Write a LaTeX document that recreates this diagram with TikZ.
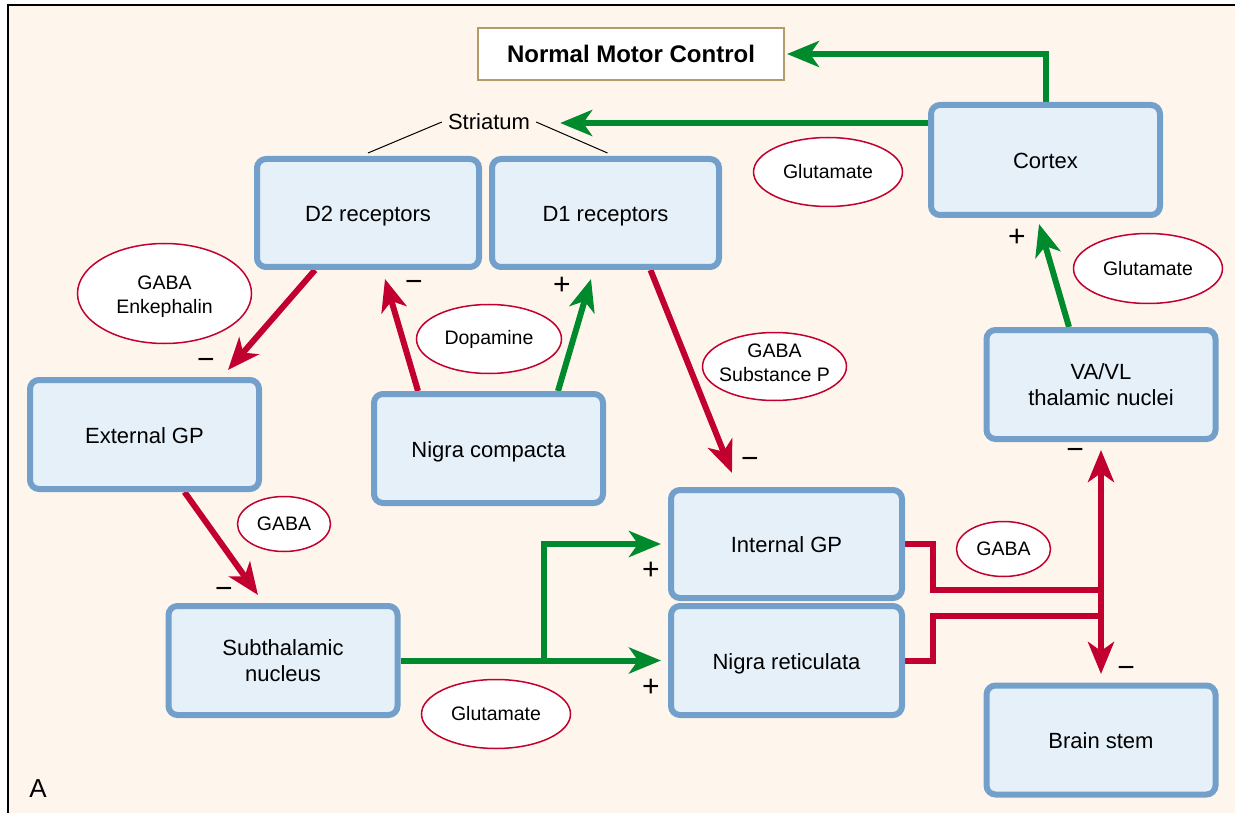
\documentclass[tikz,border=0pt]{standalone}
\usepackage{fontspec}
\setmainfont{Liberation Sans}
\usetikzlibrary{arrows.meta,shapes.geometric,calc}
\definecolor{bgcream}{HTML}{FEF6EC}
\definecolor{boxblue}{HTML}{72A0CB}
\definecolor{boxfill}{HTML}{E6F0F9}
\definecolor{redc}{HTML}{C2002F}
\definecolor{greenc}{HTML}{008A2E}
\definecolor{tanc}{HTML}{B59A6A}
\pgfdeclarelayer{back}
\pgfdeclarelayer{bg}
\pgfsetlayers{back,bg,main}
\tikzset{
  box/.style={draw=boxblue, fill=boxfill, line width=6pt, rounded corners=9pt,
    minimum width=229pt, minimum height=109pt, inner sep=0pt, align=center,
    font=\fontsize{22}{26}\selectfont},
  oneline/.style={execute at begin node={\rule[-5pt]{0pt}{27pt}}},
  ell/.style={ellipse, draw=redc, fill=white, line width=1.5pt, inner sep=0pt,
    align=center, font=\fontsize{19.5}{23.5}\selectfont},
  sign/.style={font=\fontsize{30}{30}\selectfont, inner sep=0pt},
  rarrow/.style={draw=redc, line width=6pt, -{Stealth[length=32pt,width=26pt,inset=9pt]}},
  garrow/.style={draw=greenc, line width=6pt, -{Stealth[length=32pt,width=26pt,inset=9pt]}},
  rline/.style={draw=redc, line width=6pt},
  thinline/.style={draw=black, line width=1pt}
}
\begin{document}
\begin{tikzpicture}[x=1pt,y=-1pt]
\useasboundingbox (0,0) rectangle (1235,813);
\begin{pgfonlayer}{back}
  \fill[bgcream] (8,5) rectangle (1235,813);
  \draw[line width=2pt] (8,813) -- (8,5) -- (1235,5);
\end{pgfonlayer}

% boxes
\node[draw=tanc, fill=white, line width=2pt, minimum width=306pt, minimum height=52pt,
  font=\fontsize{24}{24}\selectfont\bfseries] (nmc) at (631,54) {Normal Motor Control};
\node[box, oneline, minimum width=222pt, minimum height=108pt] (d2) at (368,213) {D2 receptors};
\node[box, oneline, minimum width=227pt, minimum height=108pt] (d1) at (605.5,213) {D1 receptors};
\node[box, oneline, minimum height=110pt] (cortex) at (1045.5,160) {Cortex};
\node[box, oneline] (extgp) at (144.5,434.5) {External GP};
\node[box, oneline] (ncomp) at (488.5,448.5) {Nigra compacta};
\node[box] (vavl) at (1101,384.5) {VA/VL\\thalamic nuclei};
\node[box, oneline, minimum width=231pt, minimum height=108pt] (igp) at (786.5,544) {Internal GP};
\node[box, oneline, minimum width=231pt] (snr) at (786.5,660.5) {Nigra reticulata};
\node[box] (stn) at (283,660.5) {Subthalamic\\nucleus};
\node[box, oneline] (bs) at (1101,740) {Brain stem};

\node[font=\fontsize{22}{22}\selectfont, inner sep=6pt] (stri) at (489,122) {Striatum};

% ellipses
\node[ell, minimum width=174pt, minimum height=100pt] (e1) at (164.5,293.5) {\rule{0pt}{20pt}GABA\\Enkephalin};
\node[ell, minimum width=145pt, minimum height=69pt] (e2) at (489,339) {Dopamine};
\node[ell, minimum width=144pt, minimum height=68pt] (e3) at (774.5,366.5) {\makebox[0pt]{GABA}\\\makebox[0pt]{Substance P}\rule[-8pt]{0pt}{8pt}};
\node[ell, minimum width=149pt, minimum height=69pt] (e4) at (828,172) {Glutamate};
\node[ell, minimum width=149pt, minimum height=70pt] (e5) at (1148,268.5) {Glutamate};
\node[ell, minimum width=93pt, minimum height=55pt] (e6) at (284,524) {GABA};
\node[ell, minimum width=149pt, minimum height=69pt] (e7) at (496,714) {Glutamate};
\node[ell, minimum width=94pt, minimum height=55pt] (e8) at (1003.5,549) {GABA};

% signs
\node[sign] (s1) at (206,364) {−};
\node[sign] (s2) at (414,286) {−};
\node[sign] (s3) at (562,286) {+};
\node[sign] (s4) at (750,463) {−};
\node[sign] (s5) at (224,593) {−};
\node[sign] (s6) at (651,571) {+};
\node[sign] (s7) at (651,688) {+};
\node[sign] (s8) at (1017,238) {+};
\node[sign] (s9) at (1075,454) {−};
\node[sign] (s10) at (1126,672) {−};

\node[font=\fontsize{26}{26}\selectfont, inner sep=0pt] (lblA) at (38,789) {A};

\coordinate (jc) at (1101,603);

\begin{pgfonlayer}{bg}
  % striatum brackets
  \draw[thinline] (stri.west) -- ([yshift=3pt]d2.north);
  \draw[thinline] (stri.east) -- ([xshift=2pt,yshift=3pt]d1.north);
  % cortex outputs
  \draw[garrow] (cortex.north) |- ([xshift=2pt]nmc.east);
  \draw[garrow] ([yshift=37pt]cortex.west) -- ([xshift=24pt,yshift=-1pt]stri.east);
  % striatum pathways
  \draw[rarrow] ([xshift=-53pt]d2.south) -- ([xshift=83.5pt,yshift=7pt]extgp.north);
  \draw[rarrow] ([xshift=-70.5pt]ncomp.north) -- ([xshift=17pt,yshift=-9pt]d2.south);
  \draw[garrow] ([xshift=69.5pt]ncomp.north) -- ([xshift=-14.5pt,yshift=-9pt]d1.south);
  \draw[rarrow] ([xshift=45pt]d1.south) -- ([xshift=-54.5pt,yshift=14pt]igp.north);
  \draw[rarrow] ([xshift=40pt]extgp.south) -- ([xshift=-25pt,yshift=8pt]stn.north);
  % subthalamic outputs
  \draw[garrow] (stn.east) -- ([xshift=-7pt]snr.west);
  \draw[garrow] ([xshift=143.5pt]stn.east) |- ([xshift=-7pt]igp.west);
  % thalamus to cortex
  \draw[garrow] ([xshift=-32pt]vavl.north) -- ([xshift=-6.5pt,yshift=-6pt]cortex.south);
  % output nuclei
  \draw[rline] (igp.east) -- ++(28,0) |- (jc |- 0,590);
  \draw[rline] (snr.east) -- ++(28,0) |- (jc |- 0,616);
  \draw[rarrow] (jc) -- ([yshift=-8pt]vavl.south);
  \draw[rarrow] (jc) -- ([yshift=8.5pt]bs.north);
\end{pgfonlayer}
\end{tikzpicture}
\end{document}
